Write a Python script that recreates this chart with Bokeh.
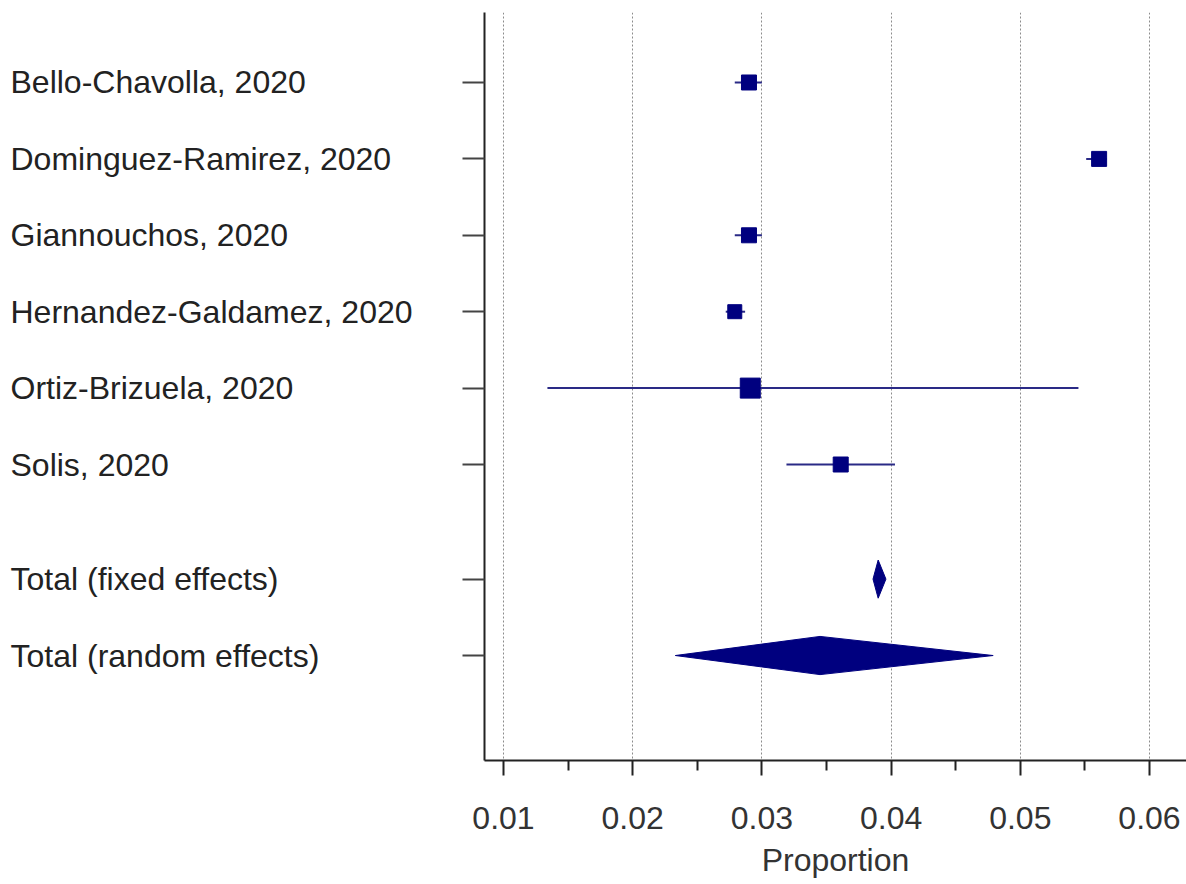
from bokeh.plotting import figure
from bokeh.layouts import row
from bokeh.models import Range1d, FixedTicker, ColumnDataSource
from bokeh.core.properties import value
from bokeh.embed import file_html
from bokeh.resources import INLINE

# Study-level proportions with 95% confidence intervals
studies = [
    "Bello-Chavolla, 2020",
    "Dominguez-Ramirez, 2020",
    "Giannouchos, 2020",
    "Hernandez-Galdamez, 2020",
    "Ortiz-Brizuela, 2020",
    "Solis, 2020",
]
proportion = [0.0290, 0.0561, 0.0290, 0.0279, 0.0291, 0.0361]
ci_low = [0.0279, 0.0551, 0.0279, 0.0272, 0.0134, 0.0319]
ci_high = [0.0300, 0.0567, 0.0300, 0.0287, 0.0545, 0.0403]

# Pooled estimates
totals = ["Total (fixed effects)", "Total (random effects)"]
total_est = [0.0390, 0.0345]
total_low = [0.0386, 0.0233]
total_high = [0.0396, 0.0479]

x_ticks = [0.01, 0.02, 0.03, 0.04, 0.05, 0.06]
x_minor = [0.015, 0.025, 0.035, 0.045, 0.055]

# ---- layout / style ----
FONT = "Liberation Sans"
FS = "32px"
NAVY = "#00007f"
marker_px = [15, 15, 15, 14, 20, 15]
diamond_half = 0.25

study_rows = [i + 1 for i in range(len(studies))]
total_rows = [len(studies) + 1.5, len(studies) + 2.5]
all_rows = study_rows + total_rows

y_range = Range1d(start=9.874, end=0.084)
TOP, BOTTOM = 12, 124
H = 884
LEFT_W = 440
RIGHT_W = 1186 - LEFT_W

# label column
pl = figure(width=LEFT_W, height=H, x_range=Range1d(0, LEFT_W), y_range=y_range,
            output_backend="svg", toolbar_location=None,
            min_border_left=0, min_border_right=0,
            min_border_top=TOP, min_border_bottom=BOTTOM)
pl.axis.visible = False
pl.grid.visible = False
pl.outline_line_color = None
pl.text(x=[10] * len(all_rows), y=all_rows, text=studies + totals,
        text_font=value(FONT), text_font_size=FS, text_color="#222222",
        text_align="left", text_baseline="middle")

# forest plot
p = figure(width=RIGHT_W, height=H, x_range=Range1d(0.008529, 0.062864), y_range=y_range,
           output_backend="svg", toolbar_location=None,
           min_border_left=484 - LEFT_W, min_border_right=0,
           min_border_top=TOP, min_border_bottom=BOTTOM)
p.outline_line_color = None
p.background_fill_color = "white"
p.border_fill_color = "white"

src = ColumnDataSource(dict(y=study_rows, est=proportion, lo=ci_low, hi=ci_high, size=marker_px))
p.segment(x0="lo", y0="y", x1="hi", y1="y", source=src, line_color="#2a2a86", line_width=2)
p.scatter(x="est", y="y", size="size", marker="square", source=src,
          fill_color=NAVY, line_color=NAVY)

xs = [[lo, m, hi, m] for lo, m, hi in zip(total_low, total_est, total_high)]
ys = [[r, r - diamond_half, r, r + diamond_half] for r in total_rows]
p.patches(xs=xs, ys=ys, fill_color=NAVY, line_color=NAVY, line_width=1)

# x axis
xa = p.xaxis[0]
xa.ticker = FixedTicker(ticks=x_ticks, minor_ticks=x_minor)
xa.major_label_overrides = {t: f"{t:.2f}" for t in x_ticks}
xa.axis_label = "Proportion"
xa.axis_label_text_font = FONT
xa.axis_label_text_font_size = FS
xa.axis_label_text_font_style = "normal"
xa.axis_label_text_color = "#333333"
xa.axis_label_standoff = 10
xa.major_label_text_font = FONT
xa.major_label_text_font_size = FS
xa.major_label_text_color = "#333333"
xa.major_label_standoff = 31
xa.axis_line_width = 2
xa.axis_line_color = "#222222"
xa.major_tick_line_width = 2
xa.major_tick_line_color = "#222222"
xa.minor_tick_line_width = 2
xa.minor_tick_line_color = "#222222"
xa.major_tick_in = 0
xa.major_tick_out = 15
xa.minor_tick_in = 0
xa.minor_tick_out = 10

# y axis: tick marks only, the row names are drawn in the label column
ya = p.yaxis[0]
ya.ticker = FixedTicker(ticks=all_rows, minor_ticks=[])
ya.major_label_overrides = {r: "" for r in all_rows}
ya.major_label_standoff = 0
ya.axis_line_width = 2
ya.axis_line_color = "#222222"
ya.major_tick_line_width = 2
ya.major_tick_line_color = "#444444"
ya.major_tick_in = 0
ya.major_tick_out = 22

p.ygrid.visible = False
p.xgrid.ticker = FixedTicker(ticks=x_ticks)
p.xgrid.grid_line_color = "#8c8c8c"
p.xgrid.grid_line_dash = "2 2"
p.xgrid.grid_line_width = 1

layout = row(pl, p, spacing=0)
open("out.html", "w").write(file_html(layout, INLINE))
